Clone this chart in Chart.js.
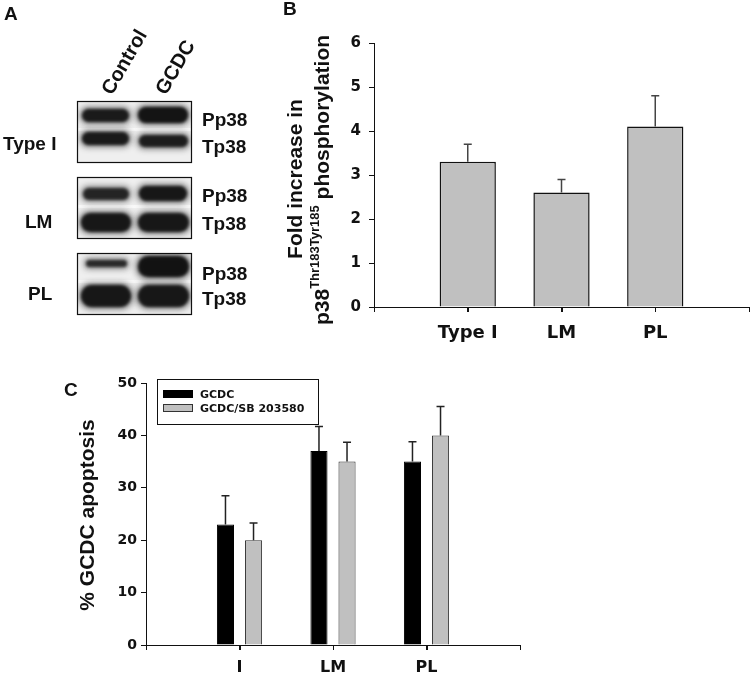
<!DOCTYPE html>
<html>
<head>
<meta charset="utf-8">
<title>p38 phosphorylation and GCDC apoptosis</title>
<script src="https://cdn.jsdelivr.net/npm/chart.js@4.4.1/dist/chart.umd.min.js"></script>
<style>
  html, body { margin: 0; padding: 0; background: #fff; }
  #page { position: relative; width: 750px; height: 679px; overflow: hidden; }
  canvas { position: absolute; }
  #decor { left: 0; top: 0; }
  #chartB { left: 260px; top: 0; }
  #chartC { left: 0; top: 350px; }
</style>
</head>
<body>
<div id="page">
  <canvas id="decor" width="750" height="679"></canvas>
  <canvas id="chartB" width="490" height="350"></canvas>
  <canvas id="chartC" width="540" height="329"></canvas>
</div>
<script>
// Panel B: fold increase in p38 phosphorylation
const bCategories = ['Type I', 'LM', 'PL'];
const bFold = [3.3, 2.6, 4.1];
const bFoldErr = [0.4, 0.3, 0.7];
const bYTicks = [0, 1, 2, 3, 4, 5, 6];

// Panel C: % GCDC apoptosis, with and without SB 203580
const cCategories = ['I', 'LM', 'PL'];
const cSeriesNames = ['GCDC', 'GCDC/SB 203580'];
const cGcdc = [23, 37, 35];
const cGcdcErr = [5.5, 4.7, 3.8];
const cGcdcSb = [20, 35, 40];
const cGcdcSbErr = [3.3, 3.7, 5.5];
const cYTicks = [0, 10, 20, 30, 40, 50];

const SANS = '"Liberation Sans", Arial, sans-serif';
const WIDE = '"DejaVu Sans", Verdana, sans-serif';
const INK = '#111';

/* ---------- panel A (blots) and free text ---------- */
function drawDecor() {
  const ctx = document.getElementById('decor').getContext('2d');
  ctx.fillStyle = INK;
  ctx.textBaseline = 'alphabetic';

  // panel letters
  ctx.font = 'bold 19px ' + SANS;
  ctx.fillText('A', 4, 20);
  ctx.fillText('B', 283, 15);
  ctx.fillText('C', 64, 396);

  // lane headers, tilted
  ctx.font = 'bold 20px ' + SANS;
  [['Control', 112, 96], ['GCDC', 166, 96]].forEach(([t, x, y]) => {
    ctx.save();
    ctx.translate(x, y);
    ctx.rotate(-Math.PI / 3);
    ctx.fillText(t, 0, 0);
    ctx.restore();
  });

  // blot strips: [x0, x1, y0, y1, darkness]
  const blots = [
    { top: 101, cut: 129, bands: [[81, 130, 108, 123, 0.9], [137, 189, 106, 124, 0.95], [81, 130, 131, 146, 0.9], [138, 189, 134, 148, 0.88]] },
    { top: 177, cut: 206, bands: [[82, 130, 187, 201, 0.82], [138, 188, 185, 202, 0.92], [80, 132, 212, 233, 0.92], [137, 190, 212, 233, 0.92]] },
    { top: 253, cut: 281, bands: [[85, 128, 259, 268, 0.8], [137, 190, 255, 278, 0.97], [80, 132, 284, 308, 0.92], [137, 190, 284, 308, 0.92]] }
  ];
  blots.forEach(b => {
    const x = 77, w = 114, h = 61;
    ctx.save();
    ctx.beginPath();
    ctx.rect(x, b.top, w, h);
    ctx.clip();
    ctx.fillStyle = '#efefef';
    ctx.fillRect(x, b.top, w, h);
    ctx.fillStyle = '#f9f9f9';
    ctx.fillRect(x, b.cut - 1, w, 3);
    ctx.filter = 'blur(3px)';
    b.bands.forEach(([x0, x1, y0, y1, d]) => {
      ctx.fillStyle = `rgba(20,20,20,${d * 0.6})`;
      ctx.beginPath();
      ctx.roundRect(x0 - 1, y0 - 1, x1 - x0 + 2, y1 - y0 + 2, (y1 - y0) / 2);
      ctx.fill();
    });
    ctx.filter = 'blur(1.5px)';
    b.bands.forEach(([x0, x1, y0, y1, d]) => {
      ctx.fillStyle = `rgba(15,15,15,${d})`;
      ctx.beginPath();
      ctx.roundRect(x0 + 1, y0 + 1, x1 - x0 - 2, y1 - y0 - 2, (y1 - y0 - 2) / 2);
      ctx.fill();
    });
    ctx.restore();
    ctx.strokeStyle = INK;
    ctx.lineWidth = 1.2;
    ctx.strokeRect(x + 0.5, b.top + 0.5, w, h);
  });

  // blot labels
  ctx.font = 'bold 19px ' + SANS;
  [[126, 153], [202, 230], [280, 305]].forEach(([yp, yt]) => {
    ctx.fillText('Pp38', 202, yp);
    ctx.fillText('Tp38', 202, yt);
  });
  ctx.fillText('Type I', 3, 150);
  ctx.fillText('LM', 25, 228);
  ctx.fillText('PL', 28, 300);

  // rotated axis titles
  const up = (text, px, py, font, align) => {
    ctx.save();
    ctx.font = font;
    ctx.textAlign = align;
    ctx.translate(px, py);
    ctx.rotate(-Math.PI / 2);
    ctx.fillText(text, 0, 0);
    ctx.restore();
  };
  const big = 'bold 21px ' + SANS;
  const small = 'bold 13px ' + SANS;
  up('Fold increase in', 302, 179, big, 'center');

  ctx.font = big;
  const wP = ctx.measureText('p38').width;
  const wRest = ctx.measureText(' phosphorylation').width;
  ctx.font = small;
  const wSup = ctx.measureText('Thr183Tyr185').width;
  const start = 180 + (wP + wSup + wRest) / 2;
  up('p38', 329, start, big, 'left');
  up('Thr183Tyr185', 319, start - wP, small, 'left');
  up(' phosphorylation', 329, start - wP - wSup, big, 'left');

  up('% GCDC apoptosis', 94, 515, big, 'center');
}

/* ---------- shared plugins ---------- */
const errorBars = {
  id: 'errorBars',
  afterDatasetsDraw(chart, args, opts) {
    const { ctx } = chart;
    const y = chart.scales.y;
    ctx.save();
    ctx.strokeStyle = opts.color;
    ctx.lineWidth = opts.width;
    chart.data.datasets.forEach((ds, di) => {
      const meta = chart.getDatasetMeta(di);
      meta.data.forEach((bar, i) => {
        const top = y.getPixelForValue(ds.data[i].y + ds.errors[i]);
        ctx.beginPath();
        ctx.moveTo(bar.x, bar.y);
        ctx.lineTo(bar.x, top);
        ctx.moveTo(bar.x - opts.cap, top);
        ctx.lineTo(bar.x + opts.cap, top);
        ctx.stroke();
      });
    });
    ctx.restore();
  }
};

// downward tick marks on the category axis, one per scale tick
const xTickMarks = {
  id: 'xTickMarks',
  afterDraw(chart, args, o) {
    const { ctx } = chart;
    const x = chart.scales.x;
    ctx.save();
    ctx.strokeStyle = INK;
    ctx.lineWidth = 1;
    x.ticks.forEach(t => {
      const px = Math.round(x.getPixelForValue(t.value)) + 0.5;
      ctx.beginPath();
      ctx.moveTo(px, x.top);
      ctx.lineTo(px, x.top + o.length);
      ctx.stroke();
    });
    ctx.restore();
  }
};

const boxLegend = {
  id: 'boxLegend',
  afterDraw(chart, args, o) {
    if (!o.show) return;
    const { ctx } = chart;
    ctx.save();
    ctx.strokeStyle = INK;
    ctx.lineWidth = 1;
    ctx.strokeRect(o.x + 0.5, o.y + 0.5, o.w, o.h);
    ctx.font = 'bold 11px ' + WIDE;
    ctx.textBaseline = 'alphabetic';
    chart.data.datasets.forEach((ds, i) => {
      const sy = o.y + 11 + i * 14;
      ctx.fillStyle = ds.backgroundColor;
      ctx.fillRect(o.x + 6, sy, 30, 7);
      ctx.strokeStyle = ds.borderColor;
      ctx.strokeRect(o.x + 6.5, sy + 0.5, 29, 7);
      ctx.fillStyle = INK;
      ctx.fillText(ds.label, o.x + 43, sy + 8);
    });
    ctx.restore();
  }
};

function axis(opts) {
  return Object.assign({
    grid: { offset: false, drawOnChartArea: false, drawTicks: true, tickLength: 5, color: INK, lineWidth: 1 },
    border: { display: true, color: INK, width: 1 }
  }, opts);
}

// fixed-height category axis that does not steal room for label overhang
const fixX = h => s => { s.height = h; s.paddingLeft = 0; s.paddingRight = 0; };

/* ---------- panel B ---------- */
function drawB() {
  new Chart(document.getElementById('chartB'), {
    type: 'bar',
    data: {
      datasets: [{
        label: 'Fold increase',
        data: bFold.map((v, i) => ({ x: i + 1, y: v })),
        errors: bFoldErr,
        backgroundColor: '#c0c0c0',
        borderColor: INK,
        borderWidth: 1.5,
        categoryPercentage: 1,
        barPercentage: 0.6
      }]
    },
    options: {
      responsive: false,
      animation: false,
      layout: { padding: { top: 43, right: 1, left: 0, bottom: 0 } },
      plugins: {
        legend: { display: false },
        tooltip: { enabled: false },
        errorBars: { color: '#444', width: 1.5, cap: 4 },
        xTickMarks: { length: 5 }
      },
      scales: {
        x: axis({
          type: 'linear', min: 0, max: 4, offset: false,
          ticks: {
            stepSize: 1, autoSkip: false, maxRotation: 0, padding: 11, color: INK,
            font: { family: WIDE, weight: 'bold', size: 18 },
            callback: v => bCategories[v - 1] || ''
          },
          afterFit: fixX(43)
        }),
        y: axis({
          min: bYTicks[0], max: bYTicks[bYTicks.length - 1],
          ticks: { padding: 8, color: INK, font: { family: WIDE, weight: 'bold', size: 15 } },
          afterBuildTicks: s => { s.ticks = bYTicks.map(v => ({ value: v })); },
          afterFit: s => { s.width = 114; }
        })
      }
    },
    plugins: [errorBars, xTickMarks]
  });
}

/* ---------- panel C ---------- */
function drawC() {
  const series = [
    { values: cGcdc, errors: cGcdcErr, fill: '#000', line: '#000' },
    { values: cGcdcSb, errors: cGcdcSbErr, fill: '#c0c0c0', line: '#333' }
  ];
  new Chart(document.getElementById('chartC'), {
    type: 'bar',
    data: {
      datasets: series.map((s, k) => ({
        label: cSeriesNames[k],
        data: s.values.map((v, i) => ({ x: i + 1, y: v })),
        errors: s.errors,
        backgroundColor: s.fill,
        borderColor: s.line,
        borderWidth: 1,
        categoryPercentage: 0.6,
        barPercentage: 0.61
      }))
    },
    options: {
      responsive: false,
      animation: false,
      layout: { padding: { top: 33, right: 20, left: 0, bottom: 0 } },
      plugins: {
        legend: { display: false },
        tooltip: { enabled: false },
        errorBars: { color: '#222', width: 1.5, cap: 4 },
        xTickMarks: { length: 5 },
        boxLegend: { show: true, x: 157, y: 29, w: 161, h: 45 }
      },
      scales: {
        x: axis({
          type: 'linear', min: 0, max: 4, offset: false,
          ticks: {
            stepSize: 1, autoSkip: false, maxRotation: 0, padding: 8, color: INK,
            font: { family: WIDE, weight: 'bold', size: 16 },
            callback: v => cCategories[v - 1] || ''
          },
          afterFit: fixX(34)
        }),
        y: axis({
          min: cYTicks[0], max: cYTicks[cYTicks.length - 1],
          ticks: { padding: 4, color: INK, font: { family: WIDE, weight: 'bold', size: 14 } },
          afterBuildTicks: s => { s.ticks = cYTicks.map(v => ({ value: v })); },
          afterFit: s => { s.width = 146; }
        })
      }
    },
    plugins: [errorBars, xTickMarks, boxLegend]
  });
}

drawDecor();
drawB();
drawC();
</script>
</body>
</html>
